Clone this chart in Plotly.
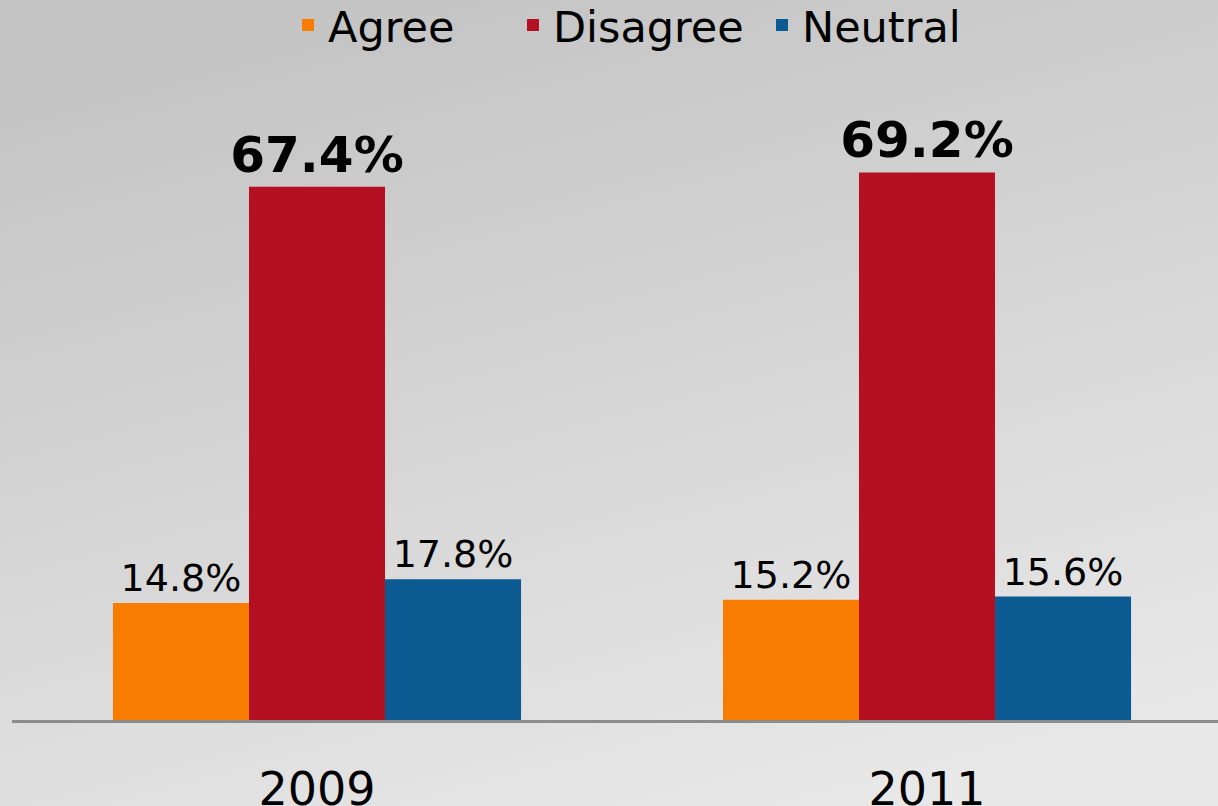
import plotly.graph_objects as go

# ---- data --------------------------------------------------------------------
YEARS = ["2009", "2011"]
AGREE = [14.8, 15.2]
DISAGREE = [67.4, 69.2]
NEUTRAL = [17.8, 15.6]

# ---- style -------------------------------------------------------------------
FONT = "DejaVu Sans, Verdana, sans-serif"
ORANGE = "#f77c00"
RED = "#b50f22"
BLUE = "#0c5a92"
W, H = 1218, 806
L, R, T, B = 12, 0, 87, 86

BG_SVG = (
    "data:image/svg+xml;utf8,"
    "<svg xmlns='http://www.w3.org/2000/svg' width='100' height='100' preserveAspectRatio='none'>"
    "<defs><linearGradient id='g' x1='0.3' y1='0' x2='0.7' y2='1'>"
    "<stop offset='0' stop-color='%23c4c4c4'/><stop offset='1' stop-color='%23e8e8e8'/>"
    "</linearGradient></defs><rect width='100' height='100' fill='url(%23g)'/></svg>"
)

fig = go.Figure()
series = [
    ("Agree", AGREE, ORANGE, "legend", 288,
     {"size": 38, "color": "#000", "family": FONT}),
    ("Disagree", DISAGREE, RED, "legend2", 513,
     {"size": 50, "color": "#000", "family": FONT, "weight": "bold"}),
    ("Neutral", NEUTRAL, BLUE, "legend3", 762,
     {"size": 38, "color": "#000", "family": FONT}),
]
legends = {}
for name, vals, color, leg, lx, tf in series:
    fig.add_trace(go.Bar(
        x=YEARS, y=vals, name=name, legend=leg, showlegend=True,
        marker={"color": color, "line": {"width": 0}},
        text=[f"{v:.1f}%" for v in vals],
        textposition="outside", textfont=tf, cliponaxis=False,
        constraintext="none",
    ))
    legends[leg] = dict(orientation="h", x=lx / W, xanchor="left", xref="container",
                        y=1 - 25 / H, yanchor="middle", yref="container",
                        font={"size": 43, "family": FONT, "color": "#000"},
                        bgcolor="rgba(0,0,0,0)")

pw, ph = W - L - R, H - T - B
fig.update_layout(
    width=W, height=H, showlegend=True,
    margin=dict(l=L, r=R, t=T, b=B, pad=0, autoexpand=False),
    barmode="group", bargap=0.331, bargroupgap=0,
    paper_bgcolor="#d6d6d6", plot_bgcolor="rgba(0,0,0,0)",
    font={"family": FONT, "color": "#000"},
    images=[dict(source=BG_SVG, xref="paper", yref="paper",
                 x=-L / pw, y=1 + T / ph, sizex=W / pw, sizey=H / ph,
                 sizing="stretch", xanchor="left", yanchor="top", layer="below")],
    **legends,
)
fig.update_xaxes(showline=True, linecolor="#8c8c8c", linewidth=3, ticks="",
                 tickfont={"size": 46, "family": FONT, "color": "#000"},
                 ticklabelstandoff=27, range=[-0.5, -0.5 + pw / 610])
fig.update_yaxes(visible=False, range=[0, 80])

fig.write_html("out.html", config={"displayModeBar": False},
               post_script="document.body.style.margin='0';")
